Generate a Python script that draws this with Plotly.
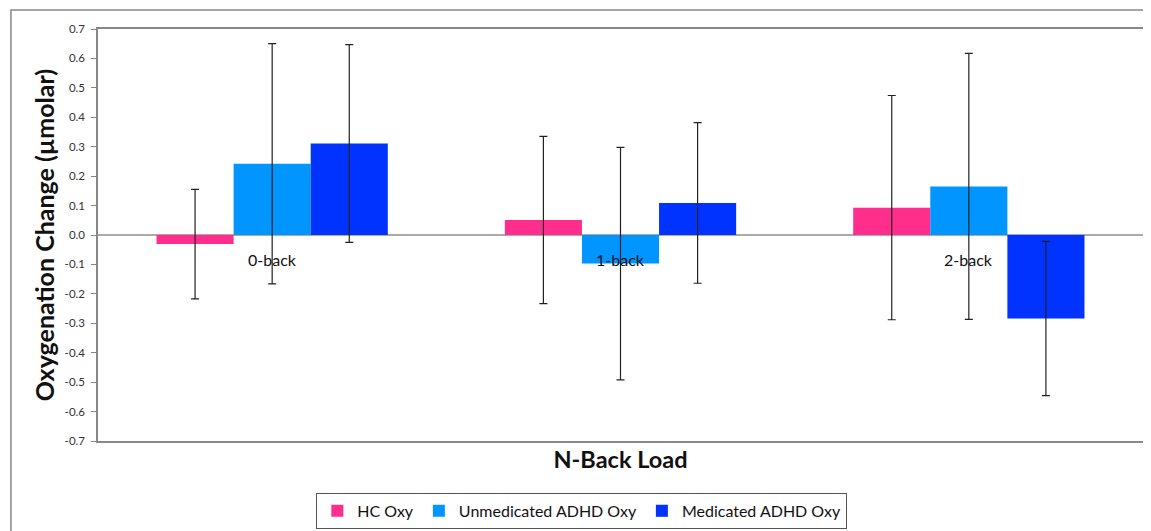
import plotly.graph_objects as go

categories = ["0-back", "1-back", "2-back"]
series_names = ["HC Oxy", "Unmedicated ADHD Oxy", "Medicated ADHD Oxy"]
hc_values = [-0.031, 0.051, 0.093]
hc_errors = [0.186, 0.284, 0.381]
unmed_values = [0.242, -0.097, 0.165]
unmed_errors = [0.408, 0.395, 0.452]
med_values = [0.311, 0.109, -0.284]
med_errors = [0.336, 0.273, 0.262]
colors = ["#FF2E8C", "#0095FF", "#0033FF"]
ytick_vals = [0.7, 0.6, 0.5, 0.4, 0.3, 0.2, 0.1, 0.0, -0.1, -0.2, -0.3, -0.4, -0.5, -0.6, -0.7]
ytick_text = ["0.7", "0.6", "0.5", "0.4", "0.3", "0.2", "0.1", "0.0", "-0.1", "-0.2", "-0.3", "-0.4", "-0.5", "-0.6", "-0.7"]

FONT = "Lato"
fig = go.Figure()
for name, vals, errs, col in zip(series_names,
                                 [hc_values, unmed_values, med_values],
                                 [hc_errors, unmed_errors, med_errors],
                                 colors):
    fig.add_trace(go.Bar(
        x=categories, y=vals, name=name,
        marker=dict(color=col, line=dict(width=0)),
        error_y=dict(type="data", array=errs, visible=True,
                     color="#222222", thickness=1.2, width=4),
    ))

for c in categories:
    fig.add_annotation(x=c, y=0, text=c, showarrow=False, yanchor="top",
                       yshift=-13, font=dict(family=FONT, size=16, color="#111111"))

# outer frame
fig.add_shape(type="rect", xref="paper", yref="paper",
              x0=-0.0833, x1=1.03, y0=-0.3, y1=1.046,
              line=dict(color="#888888", width=1.5), fillcolor="rgba(0,0,0,0)", layer="below")

fig.update_layout(
    width=1143, height=523,
    margin=dict(l=90, r=8, t=21, b=90, autoexpand=False),
    paper_bgcolor="white", plot_bgcolor="white",
    barmode="group", bargap=0.336, bargroupgap=0,
    font=dict(family=FONT, color="#222222"),
    showlegend=True,
    legend=dict(orientation="h", x=0.463, xanchor="center", y=-0.126, yanchor="top",
                bordercolor="#555555", borderwidth=1, font=dict(family=FONT, size=16, color="#111111"),
                itemwidth=30, traceorder="normal", itemsizing="constant"),
    xaxis=dict(showticklabels=False, showline=True, linecolor="#888888", linewidth=1.5,
               mirror=True, ticks="", showgrid=False, automargin=False,
               title=dict(text="<b>N-Back Load</b>", font=dict(family=FONT, size=23.5, color="#111111"), standoff=10)),
    yaxis=dict(range=[-0.7, 0.7], tickvals=ytick_vals, ticktext=ytick_text,
               showline=True, linecolor="#888888", linewidth=1.5, mirror=True,
               ticks="outside", ticklen=5, tickcolor="#888888", showgrid=False,
               ticklabelstandoff=4,
               zeroline=True, zerolinecolor="#AAAAAA", zerolinewidth=1.5, automargin=False,
               tickfont=dict(family=FONT, size=11.5, color="#333333"),
               title=dict(text="<b>Oxygenation Change (µmolar)</b>", font=dict(family=FONT, size=25, color="#111111"), standoff=3)),
)

fig.write_html("out.html")
